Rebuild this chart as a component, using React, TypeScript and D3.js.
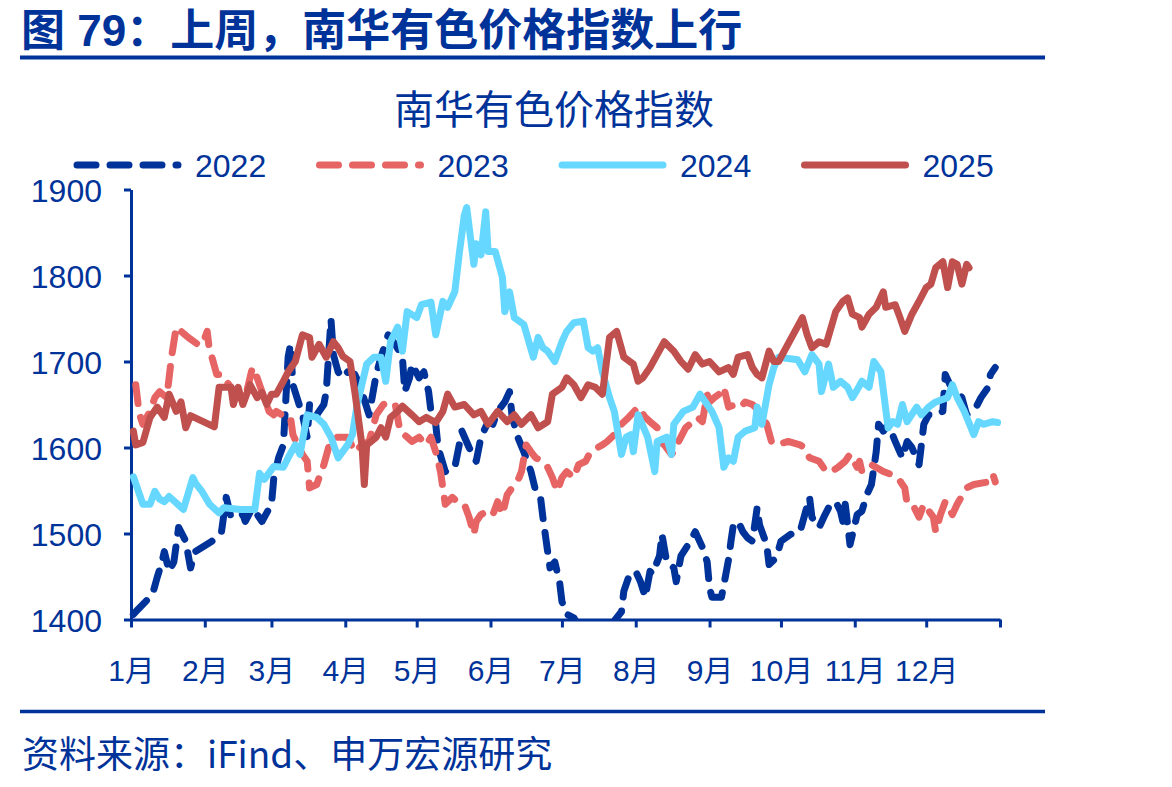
import React, { useEffect, useRef } from "react";
import * as d3 from "d3";

// Nanhua non-ferrous price index, one line per year, plotted by calendar day
const monthLabels = ["1月", "2月", "3月", "4月", "5月", "6月", "7月", "8月", "9月", "10月", "11月", "12月"];
const yTicks = [1400, 1500, 1600, 1700, 1800, 1900];
const seriesNames = ["2022", "2023", "2024", "2025"];

const idx2022: [string, number][] = [
  ["01-02", 1406], ["01-04", 1412], ["01-10", 1429], ["01-12", 1449], ["01-14", 1467], ["01-15", 1479],
  ["01-17", 1456], ["01-19", 1467], ["01-21", 1507], ["01-24", 1491], ["01-26", 1460], ["01-28", 1479],
  ["02-04", 1491], ["02-08", 1502], ["02-10", 1542], ["02-12", 1519], ["02-17", 1522], ["02-18", 1514],
  ["02-21", 1530], ["02-25", 1514], ["03-01", 1534], ["03-02", 1565], ["03-04", 1588], ["03-06", 1603],
  ["03-08", 1705], ["03-09", 1720], ["03-10", 1673], ["03-14", 1638], ["03-16", 1612], ["03-17", 1650],
  ["03-20", 1638], ["03-23", 1650], ["03-24", 1665], ["03-26", 1749], ["03-27", 1708], ["03-29", 1688],
  ["03-31", 1681], ["04-02", 1688], ["04-05", 1685], ["04-07", 1673], ["04-11", 1638], ["04-14", 1685],
  ["04-16", 1705], ["04-19", 1731], ["04-22", 1720], ["04-25", 1705], ["04-26", 1665], ["04-28", 1681],
  ["04-29", 1697], ["05-02", 1681], ["05-04", 1688], ["05-06", 1665], ["05-07", 1642], ["05-09", 1627],
  ["05-10", 1600], ["05-13", 1572], ["05-17", 1577], ["05-20", 1619], ["05-23", 1600], ["05-26", 1584],
  ["05-28", 1612], ["05-31", 1630], ["06-02", 1627], ["06-04", 1642], ["06-07", 1653], ["06-09", 1665],
  ["06-10", 1638], ["06-12", 1615], ["06-15", 1595], ["06-18", 1572], ["06-20", 1549], ["06-22", 1542],
  ["06-23", 1519], ["06-24", 1499], ["06-25", 1479], ["06-26", 1460], ["06-28", 1467], ["06-30", 1444],
  ["07-01", 1421], ["07-03", 1406], ["07-06", 1402], ["07-08", 1392], ["07-12", 1378], ["07-15", 1370],
  ["07-19", 1382], ["07-22", 1395], ["07-26", 1409], ["07-27", 1433], ["07-29", 1449], ["07-30", 1453],
  ["08-01", 1456], ["08-03", 1444], ["08-05", 1426], ["08-07", 1456], ["08-08", 1453], ["08-11", 1474],
  ["08-12", 1499], ["08-14", 1467], ["08-17", 1460], ["08-18", 1444], ["08-20", 1474], ["08-23", 1487],
  ["08-26", 1502], ["08-29", 1484], ["08-31", 1467], ["09-01", 1437], ["09-02", 1426], ["09-06", 1426],
  ["09-07", 1440], ["09-09", 1470], ["09-10", 1491], ["09-11", 1510], ["09-13", 1514], ["09-15", 1502],
  ["09-17", 1495], ["09-19", 1491], ["09-21", 1530], ["09-22", 1510], ["09-25", 1487], ["09-26", 1464],
  ["09-29", 1472], ["10-01", 1491], ["10-05", 1499], ["10-09", 1502], ["10-13", 1542], ["10-14", 1519],
  ["10-17", 1507], ["10-19", 1519], ["10-21", 1530], ["10-24", 1537], ["10-26", 1526], ["10-27", 1514],
  ["10-28", 1534], ["10-30", 1487], ["11-01", 1510], ["11-02", 1522], ["11-04", 1526], ["11-06", 1545],
  ["11-08", 1557], ["11-10", 1595], ["11-11", 1627], ["11-13", 1619], ["11-15", 1627], ["11-18", 1607],
  ["11-21", 1588], ["11-23", 1607], ["11-25", 1600], ["11-28", 1580], ["11-30", 1627], ["12-02", 1638],
  ["12-05", 1638], ["12-08", 1642], ["12-09", 1685], ["12-11", 1673], ["12-14", 1665], ["12-16", 1658],
  ["12-18", 1638], ["12-22", 1647], ["12-24", 1658], ["12-27", 1670], ["12-28", 1685], ["12-30", 1693],
];

const idx2023: [string, number][] = [
  ["01-03", 1673], ["01-04", 1650], ["01-05", 1635], ["01-06", 1627], ["01-09", 1642], ["01-11", 1658],
  ["01-13", 1665], ["01-16", 1658], ["01-17", 1681], ["01-18", 1705], ["01-20", 1740], ["01-25", 1728],
  ["01-29", 1720], ["01-31", 1720], ["02-02", 1735], ["02-03", 1712], ["02-04", 1705], ["02-06", 1685],
  ["02-08", 1685], ["02-10", 1677], ["02-12", 1670], ["02-15", 1658], ["02-18", 1658], ["02-21", 1693],
  ["02-23", 1681], ["02-25", 1665], ["02-28", 1642], ["03-02", 1638], ["03-03", 1642], ["03-07", 1635],
  ["03-09", 1635], ["03-10", 1615], ["03-12", 1603], ["03-14", 1592], ["03-16", 1584], ["03-17", 1553],
  ["03-20", 1557], ["03-23", 1580], ["03-25", 1600], ["03-28", 1612], ["04-02", 1612], ["04-05", 1595],
  ["04-08", 1603], ["04-11", 1607], ["04-14", 1638], ["04-17", 1650], ["04-20", 1653], ["04-22", 1650],
  ["04-24", 1619], ["04-27", 1612], ["04-29", 1607], ["05-02", 1612], ["05-05", 1603], ["05-07", 1612],
  ["05-09", 1595], ["05-11", 1572], ["05-12", 1553], ["05-13", 1534], ["05-16", 1542], ["05-18", 1537],
  ["05-21", 1534], ["05-23", 1519], ["05-25", 1499], ["05-26", 1514], ["05-28", 1522], ["05-31", 1526],
  ["06-02", 1522], ["06-04", 1537], ["06-06", 1522], ["06-08", 1545], ["06-10", 1553], ["06-13", 1565],
  ["06-14", 1572], ["06-16", 1603], ["06-18", 1595], ["06-20", 1588], ["06-23", 1584], ["06-25", 1577],
  ["06-27", 1565], ["06-29", 1549], ["07-01", 1565], ["07-03", 1572], ["07-06", 1565], ["07-08", 1580],
  ["07-11", 1584], ["07-13", 1595], ["07-16", 1600], ["07-18", 1603], ["07-20", 1607], ["07-23", 1615],
  ["07-26", 1627], ["07-29", 1635], ["08-02", 1647], ["08-05", 1635], ["08-07", 1630], ["08-10", 1623],
  ["08-11", 1607], ["08-13", 1603], ["08-16", 1592], ["08-17", 1595], ["08-19", 1607], ["08-22", 1623],
  ["08-25", 1630], ["08-27", 1635], ["08-29", 1630], ["08-31", 1662], ["09-01", 1653], ["09-03", 1658],
  ["09-05", 1662], ["09-07", 1670], ["09-09", 1647], ["09-12", 1650], ["09-14", 1647], ["09-16", 1653],
  ["09-19", 1650], ["09-22", 1642], ["09-25", 1627], ["09-27", 1607], ["09-29", 1603], ["10-04", 1607],
  ["10-09", 1603], ["10-11", 1600], ["10-13", 1588], ["10-17", 1584], ["10-20", 1572], ["10-22", 1572],
  ["10-25", 1577], ["10-28", 1584], ["10-30", 1592], ["11-02", 1577], ["11-03", 1584], ["11-04", 1572],
  ["11-08", 1580], ["11-13", 1572], ["11-16", 1569], ["11-19", 1565], ["11-21", 1557], ["11-22", 1553],
  ["11-23", 1534], ["11-26", 1530], ["11-28", 1519], ["11-30", 1534], ["12-04", 1519], ["12-05", 1502],
  ["12-07", 1522], ["12-09", 1537], ["12-12", 1522], ["12-14", 1534], ["12-18", 1553], ["12-21", 1557],
  ["12-27", 1560], ["12-29", 1569], ["12-30", 1560],
];

const idx2024: [string, number][] = [
  ["01-02", 1566], ["01-06", 1534], ["01-09", 1534], ["01-11", 1549], ["01-13", 1540], ["01-15", 1537],
  ["01-17", 1543], ["01-23", 1528], ["01-27", 1565], ["01-28", 1559], ["01-31", 1548], ["02-03", 1534],
  ["02-07", 1524], ["02-09", 1530], ["02-16", 1528], ["02-22", 1528], ["02-24", 1570], ["02-26", 1563],
  ["03-02", 1578], ["03-06", 1577], ["03-08", 1588], ["03-11", 1603], ["03-13", 1592], ["03-16", 1638],
  ["03-20", 1635], ["03-23", 1627], ["03-26", 1612], ["03-29", 1588], ["04-02", 1603], ["04-04", 1615],
  ["04-06", 1650], ["04-10", 1697], ["04-13", 1705], ["04-16", 1705], ["04-18", 1677], ["04-20", 1723],
  ["04-23", 1740], ["04-25", 1712], ["04-27", 1758], ["05-01", 1751], ["05-03", 1766], ["05-07", 1769],
  ["05-09", 1731], ["05-12", 1770], ["05-14", 1763], ["05-17", 1781], ["05-19", 1828], ["05-21", 1870],
  ["05-22", 1879], ["05-25", 1813], ["05-26", 1837], ["05-28", 1824], ["05-30", 1874], ["05-31", 1828],
  ["06-03", 1828], ["06-06", 1798], ["06-07", 1758], ["06-09", 1781], ["06-11", 1751], ["06-15", 1743],
  ["06-19", 1705], ["06-21", 1728], ["06-23", 1716], ["06-25", 1712], ["06-28", 1700], ["07-01", 1723],
  ["07-03", 1735], ["07-06", 1745], ["07-10", 1747], ["07-12", 1716], ["07-14", 1712], ["07-16", 1716],
  ["07-18", 1688], ["07-21", 1658], ["07-23", 1642], ["07-26", 1592], ["07-28", 1612], ["07-30", 1615],
  ["07-31", 1595], ["08-02", 1638], ["08-06", 1612], ["08-09", 1572], ["08-10", 1607], ["08-14", 1612],
  ["08-16", 1592], ["08-17", 1627], ["08-21", 1642], ["08-25", 1647], ["08-28", 1662], ["08-31", 1650],
  ["09-02", 1642], ["09-05", 1623], ["09-07", 1577], ["09-09", 1588], ["09-11", 1584], ["09-13", 1612],
  ["09-16", 1619], ["09-20", 1623], ["09-21", 1647], ["09-23", 1627], ["09-26", 1673], ["09-28", 1693],
  ["09-30", 1705], ["10-08", 1702], ["10-11", 1688], ["10-14", 1708], ["10-17", 1697], ["10-18", 1665],
  ["10-21", 1697], ["10-23", 1670], ["10-26", 1677], ["10-29", 1670], ["10-31", 1658], ["11-02", 1667],
  ["11-04", 1677], ["11-07", 1670], ["11-09", 1700], ["11-12", 1688], ["11-15", 1623], ["11-17", 1630],
  ["11-19", 1627], ["11-21", 1650], ["11-23", 1630], ["11-27", 1647], ["11-29", 1638], ["12-02", 1647],
  ["12-05", 1653], ["12-10", 1658], ["12-12", 1673], ["12-14", 1658], ["12-17", 1642], ["12-21", 1615],
  ["12-23", 1630], ["12-25", 1627], ["12-29", 1630], ["12-31", 1629],
];

const idx2025: [string, number][] = [
  ["01-02", 1619], ["01-03", 1603], ["01-06", 1606], ["01-09", 1635], ["01-12", 1647], ["01-15", 1635],
  ["01-17", 1662], ["01-20", 1642], ["01-22", 1653], ["01-24", 1623], ["01-26", 1637], ["02-05", 1624],
  ["02-07", 1670], ["02-12", 1670], ["02-13", 1650], ["02-15", 1670], ["02-17", 1650], ["02-20", 1673],
  ["02-23", 1658], ["02-25", 1664], ["02-27", 1650], ["03-01", 1662], ["03-03", 1662], ["03-06", 1677],
  ["03-08", 1688], ["03-11", 1700], ["03-14", 1731], ["03-17", 1728], ["03-18", 1705], ["03-21", 1720],
  ["03-24", 1705], ["03-27", 1723], ["03-29", 1716], ["03-31", 1706], ["04-03", 1700], ["04-05", 1665],
  ["04-08", 1603], ["04-09", 1557], ["04-10", 1603], ["04-14", 1612], ["04-16", 1623], ["04-18", 1612],
  ["04-20", 1635], ["04-23", 1642], ["04-25", 1648], ["04-29", 1638], ["05-02", 1630], ["05-05", 1635],
  ["05-09", 1629], ["05-12", 1642], ["05-14", 1662], ["05-17", 1647], ["05-21", 1650], ["05-25", 1638],
  ["05-28", 1642], ["05-31", 1627], ["06-04", 1642], ["06-08", 1630], ["06-11", 1638], ["06-14", 1627],
  ["06-18", 1638], ["06-21", 1623], ["06-25", 1630], ["06-27", 1662], ["07-01", 1670], ["07-03", 1681],
  ["07-06", 1673], ["07-09", 1658], ["07-12", 1673], ["07-15", 1670], ["07-18", 1662], ["07-21", 1728],
  ["07-24", 1735], ["07-27", 1705], ["07-31", 1697], ["08-02", 1677], ["08-04", 1681], ["08-07", 1693],
  ["08-10", 1708], ["08-13", 1723], ["08-17", 1712], ["08-20", 1700], ["08-23", 1691], ["08-26", 1708],
  ["08-29", 1697], ["09-01", 1700], ["09-05", 1688], ["09-09", 1693], ["09-11", 1685], ["09-13", 1705],
  ["09-17", 1708], ["09-19", 1693], ["09-21", 1685], ["09-23", 1681], ["09-26", 1712], ["09-28", 1700],
  ["09-30", 1700], ["10-10", 1751], ["10-12", 1731], ["10-14", 1716], ["10-17", 1723], ["10-20", 1720],
  ["10-24", 1758], ["10-27", 1770], ["10-29", 1774], ["10-31", 1755], ["11-03", 1751], ["11-04", 1740],
  ["11-07", 1755], ["11-10", 1763], ["11-13", 1781], ["11-14", 1763], ["11-18", 1766], ["11-20", 1751],
  ["11-22", 1735], ["11-25", 1755], ["11-28", 1770], ["12-01", 1786], ["12-03", 1790], ["12-05", 1809],
  ["12-08", 1816], ["12-10", 1786], ["12-12", 1816], ["12-14", 1813], ["12-16", 1790], ["12-18", 1813],
  ["12-19", 1809],
];

const BLUE = "#003399";
const NUM_FONT = "'Liberation Sans', Arial, 'Noto Sans CJK SC', sans-serif";
const CJK_FONT = "'Noto Sans CJK SC', 'Liberation Sans', sans-serif";

export default function App() {
  const ref = useRef<SVGSVGElement>(null);

  useEffect(() => {
    const svg = d3.select(ref.current);
    svg.selectAll("*").remove();

    const parse = d3.timeParse("%Y-%m-%d");
    const toPoints = (rows: [string, number][]) =>
      rows.map(([md, v]) => [parse("2001-" + md) as Date, v] as [Date, number]);

    const series = [
      { name: seriesNames[0], points: toPoints(idx2022), color: BLUE, dash: "19 14" },
      { name: seriesNames[1], points: toPoints(idx2023), color: "#E66464", dash: "19 14" },
      { name: seriesNames[2], points: toPoints(idx2024), color: "#66D8FF", dash: null },
      { name: seriesNames[3], points: toPoints(idx2025), color: "#C0504D", dash: null },
    ];

    const left = 131, right = 1000, top = 189.5, bottom = 619.5;
    const x = d3.scaleTime().domain([new Date(2001, 0, 1), new Date(2002, 0, 1)]).range([left, right]);
    const y = d3.scaleLinear().domain([1400, 1900]).range([bottom, top]);

    // header and footer
    svg.append("text")
      .attr("x", 21).attr("y", 46)
      .attr("font-family", NUM_FONT).attr("font-weight", "bold").attr("font-size", 44)
      .attr("fill", BLUE)
      .text("图 79：上周，南华有色价格指数上行");
    svg.append("line").attr("x1", 20).attr("x2", 1045).attr("y1", 57.5).attr("y2", 57.5)
      .attr("stroke", BLUE).attr("stroke-width", 4);
    svg.append("line").attr("x1", 20).attr("x2", 1045).attr("y1", 711.5).attr("y2", 711.5)
      .attr("stroke", BLUE).attr("stroke-width", 3.5);
    svg.append("text")
      .attr("x", 22).attr("y", 768)
      .attr("font-family", CJK_FONT).attr("font-size", 37)
      .attr("fill", BLUE)
      .text("资料来源：iFind、申万宏源研究");

    svg.append("text")
      .attr("x", 554).attr("y", 124)
      .attr("text-anchor", "middle")
      .attr("font-family", CJK_FONT).attr("font-size", 40)
      .attr("fill", BLUE)
      .text("南华有色价格指数");

    // legend
    const legend = svg.append("g");
    series.forEach((s, i) => {
      const lx = 77 + i * 242.5;
      legend.append("line")
        .attr("x1", lx).attr("x2", lx + 101).attr("y1", 165).attr("y2", 165)
        .attr("stroke", s.color).attr("stroke-width", 7).attr("stroke-linecap", "round")
        .attr("stroke-dasharray", s.dash);
      legend.append("text")
        .attr("x", lx + 118).attr("y", 177)
        .attr("font-family", NUM_FONT).attr("font-size", 32)
        .attr("fill", BLUE)
        .text(s.name);
    });

    // axes
    const yAxis = svg.append("g")
      .attr("transform", `translate(${left},0)`)
      .call(d3.axisLeft(y).tickValues(yTicks).tickSize(7).tickSizeOuter(0).tickFormat(d3.format("d")));
    yAxis.select(".domain").attr("stroke", BLUE).attr("stroke-width", 3);
    yAxis.selectAll(".tick line").attr("stroke", BLUE).attr("stroke-width", 3);
    yAxis.selectAll(".tick text")
      .attr("x", -29).attr("dy", "0.36em")
      .attr("font-family", NUM_FONT).attr("font-size", 32).attr("fill", BLUE);

    const monthStarts = d3.timeMonth.range(new Date(2001, 0, 1), new Date(2002, 0, 2));
    const xAxis = svg.append("g")
      .attr("transform", `translate(0,${bottom})`)
      .call(d3.axisBottom(x).tickValues(monthStarts).tickSize(8).tickSizeOuter(0)
        .tickFormat((_, i) => (i < monthLabels.length ? monthLabels[i] : "")));
    xAxis.select(".domain").attr("stroke", BLUE).attr("stroke-width", 3);
    xAxis.selectAll(".tick line").attr("stroke", BLUE).attr("stroke-width", 3);
    xAxis.selectAll(".tick text")
      .attr("y", 61).attr("dy", null)
      .attr("font-family", NUM_FONT).attr("font-size", 30).attr("fill", BLUE);

    // lines
    svg.append("clipPath").attr("id", "plot-clip")
      .append("rect").attr("x", left - 10).attr("y", 140).attr("width", right - left + 20).attr("height", bottom - 140);

    const line = d3.line<[Date, number]>().x(d => x(d[0])).y(d => y(d[1]));
    const lines = svg.append("g").attr("clip-path", "url(#plot-clip)");
    series.forEach(s => {
      lines.append("path")
        .datum(s.points)
        .attr("d", line)
        .attr("fill", "none")
        .attr("stroke", s.color)
        .attr("stroke-width", 7)
        .attr("stroke-linejoin", "round")
        .attr("stroke-linecap", "round")
        .attr("stroke-dasharray", s.dash);
    });
  }, []);

  return (
    <svg
      ref={ref}
      width={1172}
      height={787}
      style={{ position: "absolute", left: 0, top: 0, background: "#fff" }}
    />
  );
}
